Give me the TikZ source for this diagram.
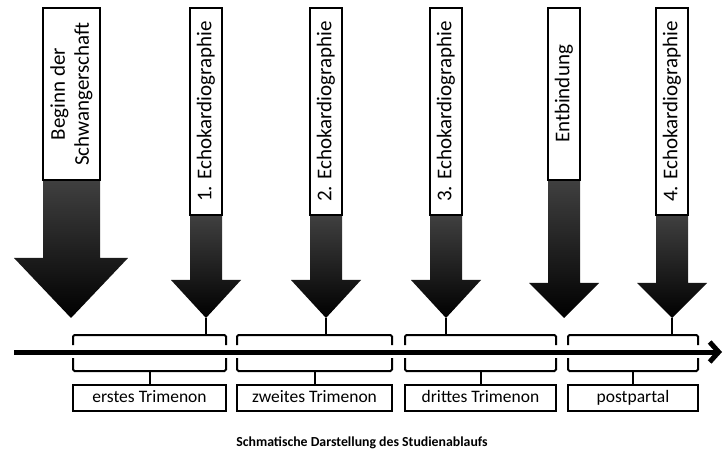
\documentclass[tikz,border=0pt]{standalone}
\usepackage{fontspec}
\setmainfont{Carlito}
\usetikzlibrary{arrows.meta}
\tikzset{
  evbody/.style={top color=black!75,bottom color=black,draw=none},
  evbox/.style={draw,line width=1.6pt,fill=white},
  evlabel/.style={rotate=90,align=center,inner sep=0pt,font=\fontsize{21}{24}\selectfont},
  bracket/.style={line width=2pt,rounded corners=1.5pt},
  segbox/.style={draw,line width=1.6pt,minimum height=26,inner sep=0pt,
    text height=12pt,text depth=4pt},
}

\begin{document}
\begin{tikzpicture}[x=1pt,y=-1pt,font=\fontsize{17.5}{19}\selectfont]
  \useasboundingbox (0,0) rectangle (724,468);
  % big arrow
  \shade[evbody] (43,180) -- (100,180) -- (100,258) -- (128,258) -- (71,318)
    -- (14,258) -- (43,258) -- cycle;
  \draw[evbox] (43,8) rectangle (100,180);
  \node[evlabel] (beginn) at (71.5,94) {Beginn der\\Schwangerschaft};
  % small arrows
  \foreach \n/\x/\yb/\yh/\txt in {e1/206/215/280/{1. Echokardiographie},
      e2/326/215/280/{2. Echokardiographie},e3/446/215/280/{3. Echokardiographie},
      entb/564/180/283/Entbindung,e4/672/215/283/{4. Echokardiographie}}{
    \shade[evbody] (\x-16,\yb) -- (\x+16,\yb) -- (\x+16,\yh) -- (\x+35,\yh)
      -- (\x,318) -- (\x-35,\yh) -- (\x-16,\yh) -- cycle;
    \draw[evbox] (\x-16,8) rectangle (\x+16,\yb);
    \node[evlabel] (lab-\n) at (\x,{(8+\yb)/2}) {\txt};
    \coordinate (tip-\n) at (\x,318);
  }
  % time axis
  \draw[line width=5pt,-{Straight Barb[length=9pt,width=20pt]}] (14,352) -- (722,352);
  % brackets above the axis
  \foreach \n/\xa/\xb/\xt in {e1/73/226/206,e2/237/392/326,e3/405/556/446,e4/568/698/672}{
    \draw[bracket] (\xa,345) -- (\xa,335) -- (\xb,335) -- (\xb,345);
    \coordinate (top-\n) at (\xt,335);
    \draw[line width=2pt] (tip-\n) -- (top-\n);
  }
  % brackets below the axis and periods
  \foreach \n/\xa/\xb/\txt in {s1/73/226/erstes Trimenon,s2/237/392/zweites Trimenon,
      s3/405/556/drittes Trimenon,s4/568/698/postpartal}{
    \draw[bracket] (\xa,358) -- (\xa,371) -- (\xb,371) -- (\xb,358);
    \node[segbox,minimum width={\xb-\xa}] (\n) at ({(\xa+\xb)/2},398) {\txt};
    \coordinate (bot-\n) at ({(\xa+\xb)/2},371);
    \draw[line width=2pt] (bot-\n) -- (\n.north);
  }
  % caption
  \node[font=\bfseries\fontsize{13.8}{16}\selectfont] (caption) at (362,443)
    {Schmatische Darstellung des Studienablaufs};
\end{tikzpicture}
\end{document}
